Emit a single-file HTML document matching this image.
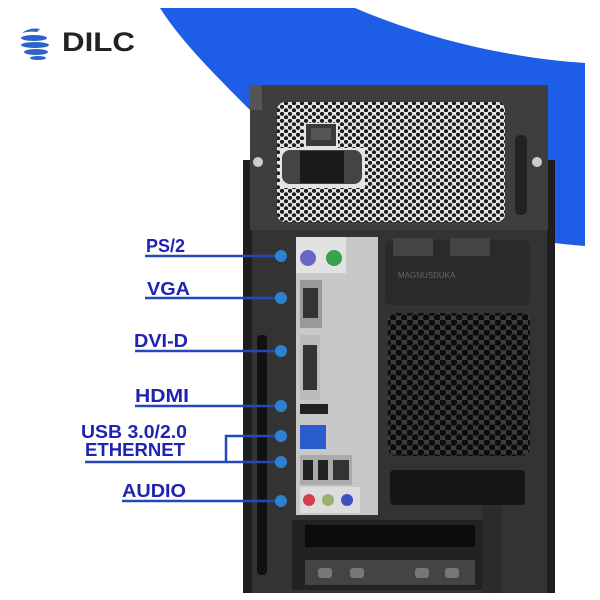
<!DOCTYPE html>
<html><head><meta charset="utf-8"><style>
html,body{margin:0;padding:0;background:#fff;width:600px;height:600px;overflow:hidden}
svg{display:block}
.lbl{font-family:"Liberation Sans",sans-serif;font-weight:bold;fill:#1f23b0;font-size:18px}
</style></head><body>
<svg width="600" height="600" viewBox="0 0 600 600" xmlns="http://www.w3.org/2000/svg">
<defs>
<pattern id="psu" width="8" height="7" patternUnits="userSpaceOnUse">
<rect width="8" height="7" fill="#e4e4e4"/>
<circle cx="2" cy="1.8" r="2.1" fill="#1c1c1c"/><circle cx="6" cy="5.3" r="2.1" fill="#1c1c1c"/>
</pattern>
<pattern id="fan" width="11" height="10" patternUnits="userSpaceOnUse">
<rect width="11" height="10" fill="#3c3c3c"/>
<circle cx="2.75" cy="2.5" r="3.3" fill="#0c0c0c"/><circle cx="8.25" cy="7.5" r="3.3" fill="#0c0c0c"/>
</pattern>
</defs>
<!-- blue swoosh -->
<path d="M160 8 L355 8 C430 40 510 58 585 63 L585 246 C430 235 300 170 250 110 C215 75 180 40 160 8 Z" fill="#1e5ee6"/>
<!-- logo -->
<g fill="#2e63c8"><path d="M22 33 q8 -6 18 -4 l-3 3 q-8 -1 -15 1z"/><ellipse cx="34" cy="38" rx="13" ry="3"/><ellipse cx="35" cy="45" rx="14" ry="3"/><ellipse cx="36" cy="52" rx="12" ry="3"/><ellipse cx="38" cy="58" rx="8" ry="2"/></g>
<text x="62" y="51" font-family="Liberation Sans,sans-serif" font-weight="bold" font-size="27" fill="#222" textLength="73" lengthAdjust="spacingAndGlyphs">DILC</text>
<!-- case body lower -->
<rect x="243" y="160" width="312" height="433" fill="#1e1e1e"/>
<rect x="252" y="170" width="295" height="423" fill="#333"/>
<!-- top plate -->
<path d="M250 85 L548 85 L548 230 L250 230 Z" fill="#3e3e3e"/>
<path d="M250 85 L262 85 L262 110 L250 110 Z" fill="#555"/>
<rect x="277" y="102" width="228" height="120" rx="8" fill="url(#psu)"/>
<rect x="280" y="148" width="85" height="40" fill="#e4e4e4"/>
<rect x="304" y="123" width="34" height="25" fill="#e4e4e4"/>
<rect x="306" y="124" width="30" height="22" fill="#3a3a3a"/><rect x="311" y="128" width="20" height="12" fill="#555"/>
<rect x="282" y="150" width="80" height="34" rx="8" fill="#444"/><rect x="300" y="151" width="44" height="32" fill="#1a1a1a"/>
<circle cx="258" cy="162" r="5" fill="#ccc"/><circle cx="537" cy="162" r="5" fill="#ccc"/>
<rect x="515" y="135" width="12" height="80" rx="5" fill="#222"/>
<!-- side slots -->
<rect x="257" y="335" width="10" height="240" rx="4" fill="#111"/>
<!-- IO shield -->
<rect x="296" y="237" width="82" height="278" fill="#c8c8c8"/>
<rect x="296" y="237" width="50" height="36" fill="#e2e2e2"/>
<circle cx="308" cy="258" r="8" fill="#6a66c8"/><circle cx="334" cy="258" r="8" fill="#3aa04a"/>
<rect x="300" y="280" width="22" height="48" fill="#999"/><rect x="303" y="288" width="15" height="30" fill="#333"/>
<rect x="300" y="335" width="20" height="65" fill="#bbb"/><rect x="303" y="345" width="14" height="45" fill="#333"/>
<rect x="300" y="404" width="28" height="10" fill="#222"/>
<rect x="300" y="425" width="26" height="24" fill="#2a5ccc"/>
<rect x="300" y="455" width="52" height="30" fill="#aaa"/><rect x="303" y="460" width="10" height="20" fill="#222"/><rect x="318" y="460" width="10" height="20" fill="#222"/><rect x="333" y="460" width="16" height="20" fill="#333"/>
<rect x="300" y="487" width="60" height="26" fill="#ddd"/>
<circle cx="309" cy="500" r="6" fill="#d04050"/><circle cx="328" cy="500" r="6" fill="#9ab070"/><circle cx="347" cy="500" r="6" fill="#4050c0"/>
<!-- right upper panels -->
<rect x="385" y="240" width="145" height="65" rx="6" fill="#2a2a2a"/>
<rect x="393" y="238" width="40" height="18" fill="#444"/><rect x="450" y="238" width="40" height="18" fill="#444"/>
<text x="398" y="278" font-family="Liberation Sans,sans-serif" font-size="8" fill="#666">MAGNUSDUKA</text>
<!-- fan grille -->
<rect x="388" y="313" width="142" height="143" rx="8" fill="url(#fan)"/>
<!-- bottom -->
<rect x="390" y="470" width="135" height="35" rx="4" fill="#151515"/>
<rect x="292" y="520" width="190" height="70" fill="#222"/>
<rect x="305" y="525" width="170" height="22" fill="#0c0c0c"/>
<rect x="305" y="560" width="170" height="25" fill="#444"/>
<g fill="#777"><rect x="318" y="568" width="14" height="10" rx="3"/><rect x="350" y="568" width="14" height="10" rx="3"/><rect x="415" y="568" width="14" height="10" rx="3"/><rect x="445" y="568" width="14" height="10" rx="3"/></g>
<rect x="482" y="505" width="20" height="88" fill="#2b2b2b"/>
<!-- labels -->
<g stroke="#2448b8" stroke-width="2.5" fill="none">
<line x1="145" y1="256" x2="280" y2="256"/>
<line x1="145" y1="298" x2="280" y2="298"/>
<line x1="135" y1="351" x2="280" y2="351"/>
<line x1="135" y1="406" x2="280" y2="406"/>
<polyline points="280,436 226,436 226,462"/>
<line x1="85" y1="462" x2="280" y2="462"/>
<line x1="122" y1="501" x2="280" y2="501"/>
</g>
<g fill="#2d8be0" opacity="0.9">
<circle cx="281" cy="256" r="6"/><circle cx="281" cy="298" r="6"/><circle cx="281" cy="351" r="6"/><circle cx="281" cy="406" r="6"/><circle cx="281" cy="436" r="6"/><circle cx="281" cy="462" r="6"/><circle cx="281" cy="501" r="6"/>
</g>
<text class="lbl" x="146" y="252" textLength="39" lengthAdjust="spacingAndGlyphs">PS/2</text>
<text class="lbl" x="147" y="295" textLength="43" lengthAdjust="spacingAndGlyphs">VGA</text>
<text class="lbl" x="134" y="347" textLength="54" lengthAdjust="spacingAndGlyphs">DVI-D</text>
<text class="lbl" x="135" y="402" textLength="54" lengthAdjust="spacingAndGlyphs">HDMI</text>
<text class="lbl" x="81" y="438" textLength="106" lengthAdjust="spacingAndGlyphs">USB 3.0/2.0</text>
<text class="lbl" x="85" y="456" textLength="100" lengthAdjust="spacingAndGlyphs">ETHERNET</text>
<text class="lbl" x="122" y="497" textLength="64" lengthAdjust="spacingAndGlyphs">AUDIO</text>
</svg>
</body></html>
